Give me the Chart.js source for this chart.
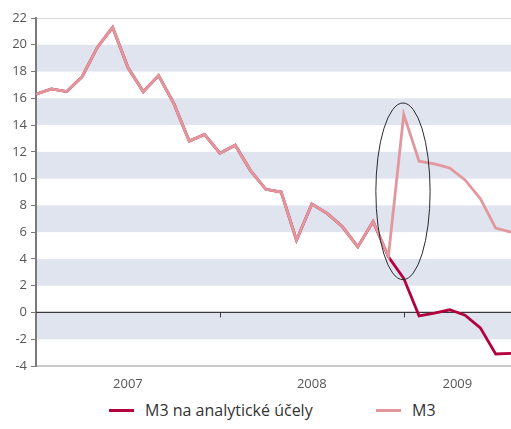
<!DOCTYPE html>
<html>
<head>
<meta charset="utf-8">
<script src="https://cdn.jsdelivr.net/npm/chart.js@4/dist/chart.umd.min.js"></script>
<style>
  html, body { margin: 0; padding: 0; background: #fff; }
  #wrap { position: relative; width: 511px; height: 395px; }
  #legend { position: absolute; left: 0; top: 399px; width: 511px; height: 22px;
            font-family: "Open Sans", sans-serif; font-size: 16px; color: #333; }
  .item { position: absolute; top: 0; height: 22px; display: flex; align-items: center; white-space: nowrap; }
  .sym { display: inline-block; width: 25px; height: 3px; margin-right: 11px; }
</style>
</head>
<body>
<div id="wrap"><canvas id="c"></canvas></div>
<div id="legend"></div>
<script>
// ---- data ----
const months = [
  '2007-01','2007-02','2007-03','2007-04','2007-05','2007-06','2007-07','2007-08','2007-09','2007-10','2007-11','2007-12',
  '2008-01','2008-02','2008-03','2008-04','2008-05','2008-06','2008-07','2008-08','2008-09','2008-10','2008-11','2008-12',
  '2009-01','2009-02','2009-03','2009-04','2009-05','2009-06','2009-07','2009-08'
];
const years = ['2007', '2008', '2009'];
const seriesNames = ['M3 na analytické účely', 'M3'];
const m3Analytic = [
  16.3, 16.7, 16.5, 17.6, 19.8, 21.3, 18.3, 16.5, 17.7, 15.6, 12.8, 13.3,
  11.9, 12.5, 10.6, 9.2, 9.0, 5.4, 8.1, 7.4, 6.4, 4.9, 6.8, 4.15,
  2.55, -0.25, -0.05, 0.2, -0.2, -1.15, -3.1, -3.05
];
const m3 = [
  16.3, 16.7, 16.5, 17.6, 19.8, 21.3, 18.3, 16.5, 17.7, 15.6, 12.8, 13.3,
  11.9, 12.5, 10.6, 9.2, 9.0, 5.4, 8.1, 7.4, 6.4, 4.9, 6.8, 4.2,
  14.8, 11.3, 11.1, 10.8, 9.9, 8.5, 6.3, 6.0
];
const yMin = -4, yMax = 22, yStep = 2;
const shadedBands = [[18, 20], [14, 16], [10, 12], [6, 8], [2, 4], [-2, 0]];
const highlight = { x: 23.95, y: 9.05, rx: 1.77, ry: 6.6 }; // ellipse in data units

// ---- styles ----
const colors = ['#b4003c', '#e2979d'];
const FONT = '"Open Sans", sans-serif';

// year label positions: middle of each year's span
const yearStarts = years.map(y => months.findIndex(m => m.startsWith(y)));
const lastIdx = months.length - 1;
const yearCenters = yearStarts.map((s, i) => {
  const e = i < years.length - 1 ? yearStarts[i + 1] : lastIdx;
  return (s + e) / 2;
});
const boundaries = yearStarts.slice(1);

const toXY = arr => arr.map((v, i) => ({ x: i, y: v }));

const bgPlugin = {
  id: 'bg',
  beforeDraw(chart) {
    const { ctx, chartArea: a, scales: { y } } = chart;
    ctx.save();
    ctx.fillStyle = '#dfe4ee';
    shadedBands.forEach(([lo, hi]) => {
      const t = y.getPixelForValue(hi), b = y.getPixelForValue(lo);
      ctx.fillRect(a.left, t, a.right - a.left, b - t);
    });
    ctx.strokeStyle = '#d6d6d6';
    ctx.lineWidth = 1;
    const top = Math.round(y.getPixelForValue(yMax)) + 0.5;
    ctx.beginPath(); ctx.moveTo(a.left, top); ctx.lineTo(a.right, top); ctx.stroke();
    ctx.restore();
  },
  beforeDatasetsDraw(chart) {
    const { ctx, chartArea: a, scales: { x, y } } = chart;
    const z = y.getPixelForValue(0);
    ctx.save();
    ctx.strokeStyle = '#3a3a3a';
    ctx.lineWidth = 1.3;
    ctx.beginPath(); ctx.moveTo(a.left, z); ctx.lineTo(a.right, z); ctx.stroke();
    ctx.lineWidth = 1;
    boundaries.forEach(b => {
      const px = Math.round(x.getPixelForValue(b)) + 0.5;
      ctx.beginPath(); ctx.moveTo(px, z); ctx.lineTo(px, z + 5); ctx.stroke();
    });
    ctx.restore();
  },
  afterDatasetsDraw(chart) {
    const { ctx, scales: { x, y } } = chart;
    const cx = x.getPixelForValue(highlight.x), cy = y.getPixelForValue(highlight.y);
    const rx = Math.abs(x.getPixelForValue(highlight.x + highlight.rx) - cx);
    const ry = Math.abs(y.getPixelForValue(highlight.y + highlight.ry) - cy);
    ctx.save();
    ctx.strokeStyle = '#2a2a2a';
    ctx.lineWidth = 1;
    ctx.beginPath(); ctx.ellipse(cx, cy, rx, ry, 0, 0, Math.PI * 2); ctx.stroke();
    ctx.restore();
  }
};

const chart = new Chart(document.getElementById('c'), {
  type: 'line',
  data: {
    datasets: [
      { label: seriesNames[0], data: toXY(m3Analytic), borderColor: colors[0], backgroundColor: colors[0],
        borderWidth: 2.8, pointRadius: 0, tension: 0, order: 1 },
      { label: seriesNames[1], data: toXY(m3), borderColor: colors[1], backgroundColor: colors[1],
        borderWidth: 2.8, pointRadius: 0, tension: 0, order: 0 }
    ]
  },
  options: {
    responsive: true,
    maintainAspectRatio: false,
    animation: false,
    devicePixelRatio: 1,
    layout: { padding: { top: 18, right: 0, left: 0, bottom: 0 } },
    plugins: { legend: { display: false }, tooltip: { enabled: false } },
    scales: {
      x: {
        type: 'linear', min: 0, max: lastIdx,
        grid: { display: false, drawTicks: false },
        border: { display: true, color: '#c9c9c9', width: 2 },
        afterBuildTicks: s => { s.ticks = yearCenters.map(v => ({ value: v })); },
        afterFit: s => { s.height = 29; },
        ticks: {
          autoSkip: false, maxRotation: 0, padding: 10,
          color: '#555', font: { family: FONT, size: 13 },
          callback: (v, i) => years[i]
        }
      },
      y: {
        min: yMin, max: yMax,
        grid: { display: true, drawOnChartArea: false, drawTicks: true, tickLength: 5, color: '#7a7a7a', lineWidth: 1 },
        border: { display: true, color: '#7a7a7a', width: 2 },
        afterFit: s => { s.width = 36; },
        ticks: { stepSize: yStep, padding: 4, color: '#555', font: { family: FONT, size: 13 } }
      }
    }
  },
  plugins: [bgPlugin]
});

// legend (HTML, built from the datasets)
const legendPos = [109, 376];
const lg = document.getElementById('legend');
chart.data.datasets.forEach((ds, i) => {
  const it = document.createElement('div');
  it.className = 'item';
  it.style.left = legendPos[i] + 'px';
  const sym = document.createElement('span');
  sym.className = 'sym';
  sym.style.background = ds.borderColor;
  const tx = document.createElement('span');
  tx.textContent = ds.label;
  it.appendChild(sym); it.appendChild(tx);
  lg.appendChild(it);
});
</script>
</body>
</html>
